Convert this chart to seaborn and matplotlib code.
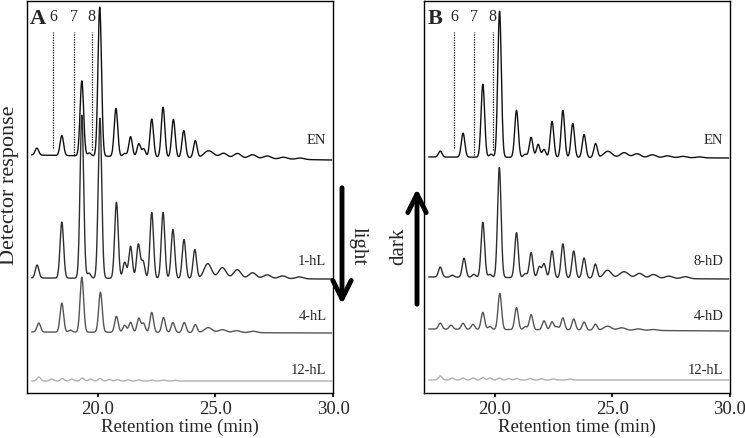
import numpy as np
import pandas as pd
import seaborn as sns
from matplotlib import pyplot as plt
from matplotlib.patches import FancyArrowPatch

# retention times (min) and heights of the peaks
# panel A - light series
a_en_t = [17.42, 18.48, 19.33, 19.65, 20.09, 20.78, 21.15, 21.4, 21.75, 21.96, 22.3, 22.78, 23.22,
          23.66, 24.15, 24.63, 24.85, 25.35, 25.94, 26.58, 27.2, 27.9, 28.6]
a_en_h = [7, 20, 75, 3, 149, 48, 3, 20, 13, 8, 38, 50, 38, 27, 17, 5, 4, 5, 5, 4, 3, 2, 1.5]

a_1hl_t = [17.43, 18.48, 19.33, 19.63, 20.1, 20.8, 21.15, 21.4, 21.73, 21.93, 22.3, 22.78, 23.2,
           23.67, 24.13, 24.68, 25.3, 25.93, 26.58, 27.2, 27.85, 28.57]
a_1hl_h = [13, 56, 163, 5, 160, 76, 16, 32, 34, 17, 66, 66, 49, 39, 29, 15, 11, 9, 6, 4, 3, 2]

a_4hl_t = [17.5, 18.48, 18.85, 19.33, 20.12, 20.8, 21.15, 21.4, 21.75, 21.95, 22.3, 22.8, 23.2,
           23.68, 24.15, 24.7, 25.3, 25.9, 26.6]
a_4hl_h = [9, 29, 2, 55, 40, 16, 7, 10, 14, 9, 20, 15, 10, 10, 8, 5, 3, 2, 1.5]

a_12hl_t = [17.5, 18.05, 18.5, 18.9, 19.35, 19.7, 20.1, 20.5, 20.85, 21.3, 21.75, 22.3, 22.8, 23.3]
a_12hl_h = [4, 2, 2.5, 2, 3, 2, 2.5, 1.5, 1.5, 1.2, 1.2, 1, 1, 0.8]

# panel B - dark series
b_en_t = [17.69, 18.66, 19.5, 19.85, 20.21, 20.93, 21.3, 21.55, 21.85, 22.1, 22.44, 22.9, 23.32,
          23.8, 24.29, 24.75, 24.9, 25.5, 26.05, 26.7, 27.35, 28.0, 28.7]
b_en_h = [6, 24, 73, 3, 146, 47, 3, 20, 13, 8, 36, 47, 34, 23, 14, 4, 3, 5, 4, 3, 2, 1.5, 1]

b_8hd_t = [17.69, 18.2, 18.7, 19.12, 19.5, 19.8, 20.2, 20.93, 21.3, 21.55, 21.9, 22.1, 22.44, 22.9,
           23.36, 23.8, 24.28, 24.8, 25.4, 25.6, 26.15, 26.75, 27.4, 28.1]
b_8hd_h = [10, 2, 19, 3, 55, 3, 110, 45, 4, 25, 11, 14, 27, 34, 27, 20, 14, 8, 4, 4, 5, 4, 2.5, 2]

b_4hd_t = [17.69, 18.15, 18.66, 19.08, 19.5, 19.8, 20.22, 20.93, 21.3, 21.55, 22.1, 22.44, 22.65,
           22.9, 23.36, 23.8, 24.28, 24.8, 25.4, 26.1, 26.75]
b_4hd_h = [6, 4, 6, 5, 17, 3, 36, 22, 3, 15, 9, 8, 3, 12, 11, 8, 6, 4, 2.5, 1.5, 1]

b_12hl_t = [17.69, 18.2, 18.66, 19.08, 19.5, 19.8, 20.2, 20.6, 20.93, 21.5, 22.0, 22.5, 23.2]
b_12hl_h = [4, 2, 2, 2, 2.5, 2, 2, 1.5, 1.5, 1.5, 1.2, 1, 1]

# trace names, baseline left/right, colour
a_names = ['EN', '1-hL', '4-hL', '12-hL']
b_names = ['EN', '8-hD', '4-hD', '12-hL']
a_base = [(238, 233), (115, 114), (61, 60), (12, 12)]
b_base = [(236, 235), (116, 114), (64, 62), (13, 13)]
colors = ['#111111', '#2e2e2e', '#555555', '#b0b0b0']
label_y = [253, 132, 76, 23]

peak_lines_a = [18.1, 18.99, 19.75]
peak_lines_b = [18.28, 19.12, 19.92]
peak_nums = ['6', '7', '8']

t = np.arange(17.2, 29.95, 0.004)


def trace(pos, hts, base):
    # chromatogram = baseline + gaussian peaks
    y = np.linspace(base[0], base[1], len(t))
    for p, h in zip(pos, hts):
        s = 0.075 if p < 24.5 else 0.16
        y = y + h * np.exp(-0.5 * ((t - p) / s) ** 2)
    return y


sns.set_style('white')
plt.rcParams['font.family'] = ['Liberation Serif', 'DejaVu Serif']

fig = plt.figure(figsize=(7.45, 4.38), dpi=100)
axA = fig.add_axes([27 / 745, 1 - 393 / 438, 306 / 745, 392 / 438])
axB = fig.add_axes([424 / 745, 1 - 393 / 438, 306 / 745, 392 / 438])


def panel(ax, series, names, bases, vlines, letter):
    for (pos, hts), nm, b, c, ly in zip(series, names, bases, colors, label_y):
        df = pd.DataFrame({'t': t, 'y': trace(pos, hts, b)})
        sns.lineplot(data=df, x='t', y='y', ax=ax, color=c, lw=1.0, estimator=None)
        ax.text(29.72, ly, nm, ha='right', va='center', fontsize=10.5)
    ax.vlines(vlines, [245, 238, 243], 361, colors='black', linestyles=(0, (1, 1)), lw=0.9)
    for x, n in zip(vlines, peak_nums):
        ax.text(x, 376, n, ha='center', va='center', fontsize=11.5)
    ax.text(17.48, 374, letter, ha='center', va='center', fontsize=16, fontweight='bold')
    ax.set_xlim(17.0, 30.0)
    ax.set_ylim(0, 392)
    ax.set_yticks([])
    ax.set_xticks([20, 25, 30])
    ax.set_xticklabels(['20.0', '25.0', '30.0'], fontsize=13.5)
    ax.tick_params(axis='x', direction='out', length=3, width=1.5, pad=3, bottom=True)
    ax.set_xlabel('Retention time (min)', fontsize=13.5, labelpad=0)
    ax.set_ylabel('')
    for sp in ax.spines.values():
        sp.set_visible(True)
        sp.set_color('black')
        sp.set_linewidth(1.0)


panel(axA, [(a_en_t, a_en_h), (a_1hl_t, a_1hl_h), (a_4hl_t, a_4hl_h), (a_12hl_t, a_12hl_h)],
      a_names, a_base, peak_lines_a, 'A')
panel(axB, [(b_en_t, b_en_h), (b_8hd_t, b_8hd_h), (b_4hd_t, b_4hd_h), (b_12hl_t, b_12hl_h)],
      b_names, b_base, peak_lines_b, 'B')

fig.text(10 / 745, 1 - 185 / 438, 'Detector response', rotation=90, ha='center', va='center', fontsize=16)

# light / dark arrows between the panels
arr_kw = dict(arrowstyle='->,head_length=0.6,head_width=0.3', mutation_scale=22, lw=3.5,
              color='black', transform=fig.transFigure)
fig.add_artist(FancyArrowPatch((342 / 745, 1 - 185 / 438), (342 / 745, 1 - 307 / 438), **arr_kw))
fig.add_artist(FancyArrowPatch((417 / 745, 1 - 307 / 438), (417 / 745, 1 - 186 / 438), **arr_kw))
fig.text(358 / 745, 1 - 246 / 438, 'light', rotation=270, ha='center', va='center', fontsize=15)
fig.text(399 / 745, 1 - 246 / 438, 'dark', rotation=90, ha='center', va='center', fontsize=15)

fig.savefig('out.png', dpi=100)
